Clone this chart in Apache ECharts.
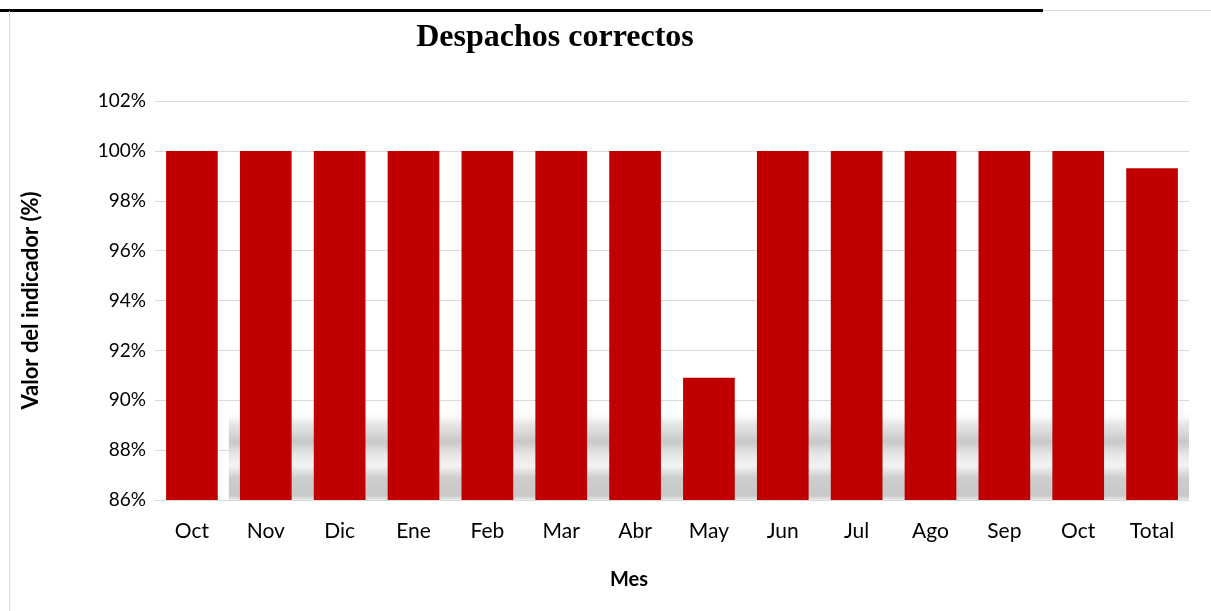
<!DOCTYPE html>
<html>
<head>
<meta charset="utf-8">
<script src="https://cdn.jsdelivr.net/npm/echarts@6/dist/echarts.min.js"></script>
<style>
  html, body { margin: 0; padding: 0; background: #fff; }
  #chart { width: 1211px; height: 611px; }
</style>
</head>
<body>
<div id="chart"></div>
<script>
// Monthly share of correct dispatches (%)
const months = ['Oct', 'Nov', 'Dic', 'Ene', 'Feb', 'Mar', 'Abr', 'May', 'Jun', 'Jul', 'Ago', 'Sep', 'Oct', 'Total'];
const correctPct = [100, 100, 100, 100, 100, 100, 100, 90.9, 100, 100, 100, 100, 100, 99.3];
const yTicks = { min: 86, max: 102, step: 2 };

const chart = echarts.init(document.getElementById('chart'));

chart.setOption({
  animation: false,
  backgroundColor: '#ffffff',
  title: {
    text: 'Despachos correctos',
    left: 550,
    top: 17,
    textAlign: 'center',
    textStyle: {
      fontFamily: 'Liberation Serif',
      fontWeight: 'bold',
      fontSize: 32,
      color: '#000'
    }
  },
  graphic: [
    { type: 'rect', shape: { x: 0, y: 9, width: 1043, height: 3 }, style: { fill: '#000' } },
    { type: 'rect', shape: { x: 1043, y: 10, width: 168, height: 1 }, style: { fill: '#d9d9d9' } },
    { type: 'rect', shape: { x: 9, y: 11, width: 1, height: 600 }, style: { fill: '#d9d9d9' } }
  ],
  grid: { left: 155, right: 22, top: 101, bottom: 111, containLabel: false },
  xAxis: {
    type: 'category',
    data: months,
    name: 'Mes',
    nameLocation: 'middle',
    nameGap: 70,
    nameTextStyle: { fontFamily: 'Lato', fontWeight: 'bold', fontSize: 20, color: '#000', padding: [0, 86, 0, 0] },
    axisLine: { lineStyle: { color: '#d9d9d9', width: 1 } },
    axisTick: { show: false },
    axisLabel: { fontFamily: 'Lato', fontSize: 21, color: '#000', margin: 21 }
  },
  yAxis: {
    type: 'value',
    min: yTicks.min,
    max: yTicks.max,
    interval: yTicks.step,
    name: 'Valor del indicador (%)',
    nameLocation: 'middle',
    nameGap: 113,
    nameTextStyle: { fontFamily: 'Lato', fontWeight: 'bold', fontSize: 22, color: '#000' },
    axisLine: { show: false },
    axisTick: { show: false },
    axisLabel: { fontFamily: 'Lato', fontSize: 19, color: '#000', margin: 9, formatter: '{value}%' },
    splitLine: { lineStyle: { color: '#d9d9d9', width: 1 } }
  },
  series: [
    {
      type: 'bar',
      data: correctPct,
      barCategoryGap: '30%',
      itemStyle: { color: '#c00000' },
      z: 3,
      markArea: {
        silent: true,
        z: 1,
        itemStyle: {
          color: {
            type: 'linear', x: 0, y: 0, x2: 0, y2: 1,
            colorStops: [
              { offset: 0.0, color: 'rgba(255,255,255,0)' },
              { offset: 0.15, color: 'rgba(220,220,220,0.7)' },
              { offset: 0.35, color: 'rgba(200,200,200,1)' },
              { offset: 0.5, color: 'rgba(232,232,232,1)' },
              { offset: 0.62, color: 'rgba(243,243,243,1)' },
              { offset: 0.75, color: 'rgba(206,206,206,1)' },
              { offset: 0.95, color: 'rgba(200,200,200,1)' },
              { offset: 1.0, color: 'rgba(235,235,235,1)' }
            ]
          }
        },
        data: [[{ yAxis: 89.6, xAxis: 'Nov' }, { yAxis: 86, xAxis: 'Total' }]]
      }
    }
  ]
});
</script>
</body>
</html>
